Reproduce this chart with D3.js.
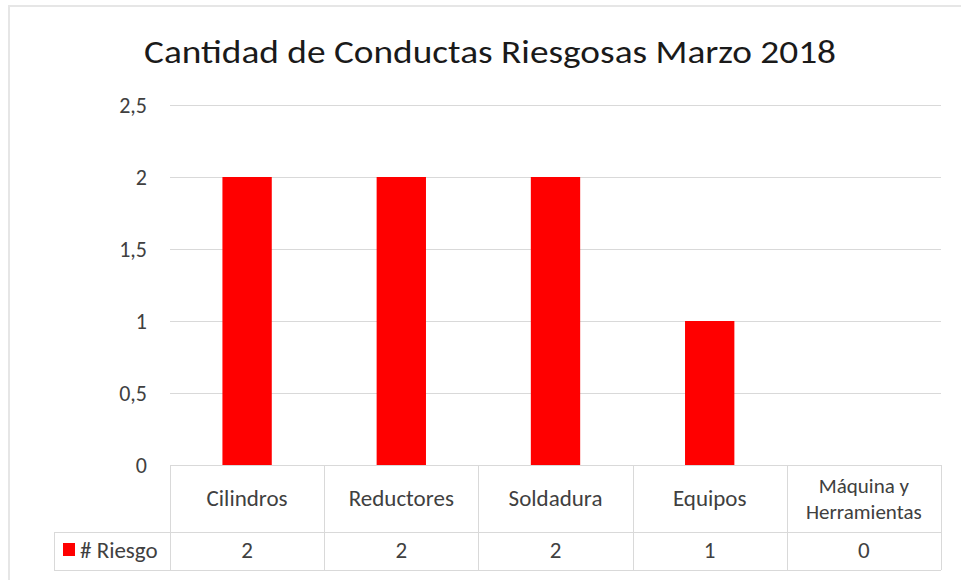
<!DOCTYPE html>
<html>
<head>
<meta charset="utf-8">
<script src="https://cdn.jsdelivr.net/npm/d3@7"></script>
<style>
  body { margin: 0; background: #fff; }
  text { font-family: Carlito, Lato, "Open Sans", sans-serif; }
</style>
</head>
<body>
<div id="chart"></div>
<script>
const categories = ['Cilindros', 'Reductores', 'Soldadura', 'Equipos', 'Máquina y Herramientas']
const categoryLines = [['Cilindros'], ['Reductores'], ['Soldadura'], ['Equipos'], ['Máquina y', 'Herramientas']]
const riesgo = [2, 2, 2, 1, 0]
const yTicks = [0, 0.5, 1, 1.5, 2, 2.5]
const seriesName = '# Riesgo'
const title = 'Cantidad de Conductas Riesgosas Marzo 2018'

const W = 961, H = 580
const plot = { left: 170, right: 941, top: 105, bottom: 465 }
const row1 = 532, row2 = 570, legendLeft = 54
const grid = '#d9d9d9', textCol = '#404040'

const svg = d3.select('#chart').append('svg')
    .attr('width', W)
    .attr('height', H)

// chart frame
svg.append('rect')
    .attr('x', 9).attr('y', 6)
    .attr('width', W + 20).attr('height', H + 20)
    .attr('fill', '#fff')
    .attr('stroke', '#e6e6e6')
    .attr('stroke-width', 2)

svg.append('text')
    .attr('x', 490).attr('y', 63)
    .attr('text-anchor', 'middle')
    .attr('font-size', 32)
    .attr('fill', '#1a1a1a')
    .attr('textLength', 692)
    .attr('lengthAdjust', 'spacingAndGlyphs')
    .text(title)

const y = d3.scaleLinear()
    .domain([0, 2.5])
    .range([plot.bottom, plot.top])

const x = d3.scaleBand()
    .domain(categories)
    .range([plot.left, plot.right])
    .paddingInner(0.68)
    .paddingOuter(0.34)

const yAxis = svg.append('g')
    .attr('transform', 'translate(' + plot.left + ',0)')
    .call(
        d3.axisLeft(y)
            .tickValues(yTicks)
            .tickSize(-(plot.right - plot.left))
            .tickPadding(23)
            .tickFormat(d => String(d).replace('.', ','))
    )
yAxis.select('.domain').remove()
yAxis.selectAll('.tick line')
    .attr('stroke', grid)
    .attr('stroke-width', 1)
    .filter(d => d === 0).remove()
yAxis.selectAll('.tick text')
    .attr('font-size', 22)
    .attr('fill', textCol)
    .attr('font-family', 'Carlito, Lato, "Open Sans", sans-serif')

svg.append('g').selectAll('rect')
    .data(riesgo)
    .enter()
    .append('rect')
    .attr('fill', '#ff0000')
    .attr('x', (_, i) => x(categories[i]))
    .attr('width', x.bandwidth())
    .attr('y', d => y(d))
    .attr('height', d => y(0) - y(d))

// data table
const cell = d3.scaleBand()
    .domain(categories)
    .range([plot.left, plot.right])

const table = svg.append('g')
    .attr('fill', 'none')
    .attr('stroke', grid)
    .attr('stroke-width', 1)

table.append('line')
    .attr('x1', plot.left).attr('x2', plot.right)
    .attr('y1', plot.bottom + 0.5).attr('y2', plot.bottom + 0.5)
table.append('line')
    .attr('x1', legendLeft).attr('x2', plot.right)
    .attr('y1', row1 + 0.5).attr('y2', row1 + 0.5)
table.append('line')
    .attr('x1', legendLeft).attr('x2', plot.right)
    .attr('y1', row2 + 0.5).attr('y2', row2 + 0.5)
table.append('line')
    .attr('x1', legendLeft + 0.5).attr('x2', legendLeft + 0.5)
    .attr('y1', row1).attr('y2', row2)
table.selectAll('.vline')
    .data(categories.concat(['end']))
    .enter()
    .append('line')
    .attr('x1', (d, i) => Math.round(i < categories.length ? cell(d) : plot.right) + 0.5)
    .attr('x2', (d, i) => Math.round(i < categories.length ? cell(d) : plot.right) + 0.5)
    .attr('y1', plot.bottom)
    .attr('y2', row2)

const catText = svg.append('g').selectAll('text')
    .data(categoryLines)
    .enter()
    .append('text')
    .attr('text-anchor', 'middle')
    .attr('font-size', d => d.length > 1 ? 21 : 23)
    .attr('fill', textCol)
    .attr('x', (_, i) => cell(categories[i]) + cell.bandwidth() / 2)
    .attr('y', d => d.length > 1 ? 493 : 506)
catText.selectAll('tspan')
    .data(d => d)
    .enter()
    .append('tspan')
    .attr('x', function () { return d3.select(this.parentNode).attr('x') })
    .attr('dy', (_, j) => j === 0 ? 0 : 26)
    .text(d => d)

svg.append('g').selectAll('text')
    .data(riesgo)
    .enter()
    .append('text')
    .attr('text-anchor', 'middle')
    .attr('font-size', 23)
    .attr('fill', textCol)
    .attr('x', (_, i) => cell(categories[i]) + cell.bandwidth() / 2)
    .attr('y', 558)
    .text(d => d)

svg.append('rect')
    .attr('x', 63).attr('y', 543)
    .attr('width', 12).attr('height', 13)
    .attr('fill', '#ff0000')
svg.append('text')
    .attr('x', 80).attr('y', 558)
    .attr('font-size', 23)
    .attr('fill', textCol)
    .text(seriesName)
</script>
</body>
</html>
